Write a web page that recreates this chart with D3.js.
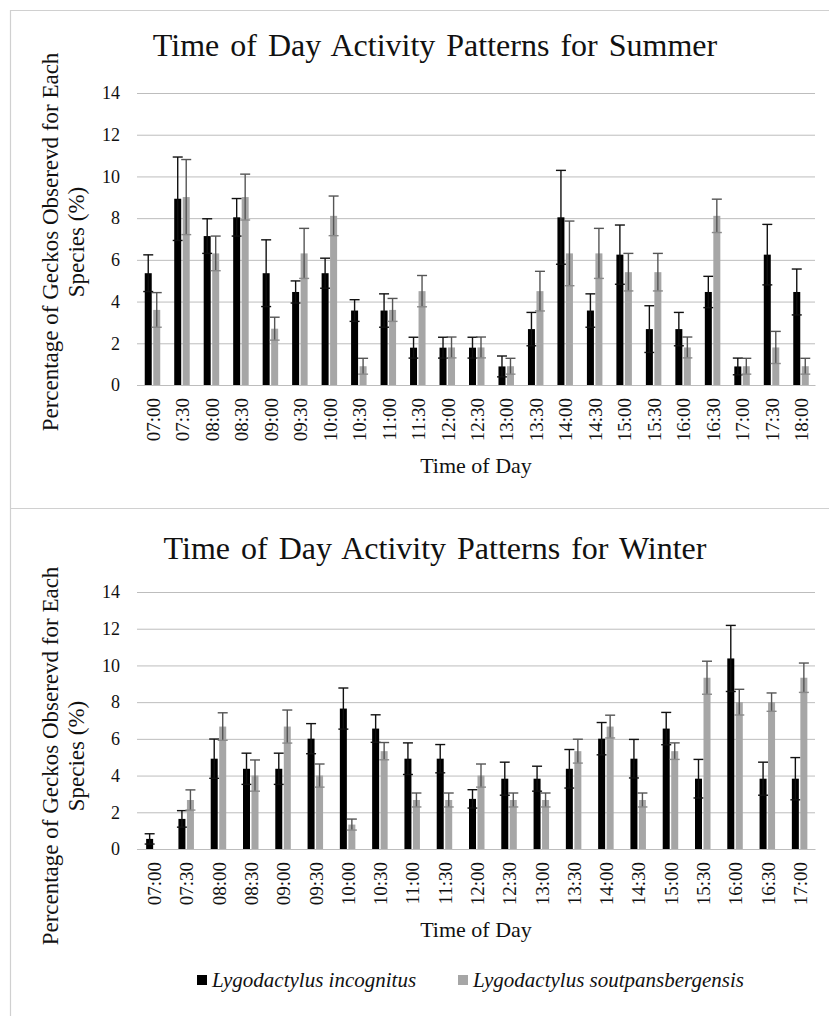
<!DOCTYPE html>
<html>
<head>
<meta charset="utf-8">
<script src="https://cdn.jsdelivr.net/npm/d3@7"></script>
<style>
  html, body { margin: 0; padding: 0; background: #fff; }
  svg { display: block; }
  svg text { font-family: "Liberation Serif", "DejaVu Serif", serif; }
</style>
</head>
<body>
<svg id="chart" width="829" height="1016"></svg>
<script>
// Percentage of geckos observed per half-hour slot, with error bar half-widths
const summerTimes = ["07:00","07:30","08:00","08:30","09:00","09:30","10:00","10:30","11:00","11:30","12:00",
  "12:30","13:00","13:30","14:00","14:30","15:00","15:30","16:00","16:30","17:00","17:30","18:00"];
const summerIncognitus = [5.36, 8.93, 7.14, 8.04, 5.36, 4.46, 5.36, 3.57, 3.57, 1.79, 1.79,
  1.79, 0.89, 2.68, 8.04, 3.57, 6.25, 2.68, 2.68, 4.46, 0.89, 6.25, 4.46];
const summerIncognitusErr = [0.88, 2.0, 0.83, 0.9, 1.6, 0.53, 0.72, 0.52, 0.8, 0.5, 0.5,
  0.5, 0.5, 0.8, 2.25, 0.8, 1.42, 1.12, 0.8, 0.75, 0.4, 1.45, 1.1];
const summerSoutpans = [3.60, 9.01, 6.31, 9.01, 2.70, 6.31, 8.11, 0.90, 3.60, 4.50, 1.80,
  1.80, 0.90, 4.50, 6.31, 6.31, 5.41, 5.41, 1.80, 8.11, 0.90, 1.80, 0.90];
const summerSoutpansErr = [0.83, 1.8, 0.83, 1.1, 0.55, 1.2, 0.95, 0.38, 0.55, 0.75, 0.5,
  0.5, 0.38, 0.95, 1.55, 1.2, 0.9, 0.9, 0.5, 0.8, 0.38, 0.77, 0.38];

const winterTimes = ["07:00","07:30","08:00","08:30","09:00","09:30","10:00","10:30","11:00","11:30","12:00",
  "12:30","13:00","13:30","14:00","14:30","15:00","15:30","16:00","16:30","17:00"];
const winterIncognitus = [0.55, 1.64, 4.92, 4.37, 4.37, 6.01, 7.65, 6.56, 4.92, 4.92, 2.73,
  3.83, 3.83, 4.37, 6.01, 4.92, 6.56, 3.83, 10.38, 3.83, 3.83];
const winterIncognitusErr = [0.28, 0.45, 1.07, 0.85, 0.85, 0.82, 1.12, 0.75, 0.86, 0.77, 0.5,
  0.9, 0.68, 1.05, 0.88, 1.05, 0.88, 1.05, 1.8, 0.9, 1.15];
const winterSoutpans = [0, 2.67, 6.67, 4.00, 6.67, 4.00, 1.33, 5.33, 2.67, 2.67, 4.00,
  2.67, 2.67, 5.33, 6.67, 2.67, 5.33, 9.33, 8.00, 8.00, 9.33];
const winterSoutpansErr = [0, 0.55, 0.75, 0.85, 0.9, 0.63, 0.3, 0.47, 0.38, 0.38, 0.63,
  0.38, 0.38, 0.65, 0.62, 0.38, 0.45, 0.9, 0.7, 0.5, 0.8];

const yTicks = [0, 2, 4, 6, 8, 10, 12, 14];
const speciesNames = ["Lygodactylus incognitus", "Lygodactylus soutpansbergensis"];
const seriesColors = ["#000000", "#a6a6a6"];
const errColors = ["#111111", "#555555"];
const SERIF = "Liberation Serif";

const svg = d3.select("#chart");
svg.append("rect").attr("width", 829).attr("height", 1016).attr("fill", "#fff");

// frame around both panels
const frame = svg.append("g").attr("stroke", "#d0d0d0").attr("fill", "none").attr("stroke-width", 1.2);
frame.append("line").attr("x1", 10.5).attr("x2", 10.5).attr("y1", 10).attr("y2", 1016);
frame.append("line").attr("x1", 10).attr("x2", 829).attr("y1", 10.5).attr("y2", 10.5);
frame.append("line").attr("x1", 10).attr("x2", 829).attr("y1", 508.5).attr("y2", 508.5);

function drawPanel(cfg) {
  const g = svg.append("g").attr("font-family", SERIF);
  const x = d3.scaleBand().domain(cfg.times).range([137, 815]).padding(0);
  const y = d3.scaleLinear().domain([0, 14]).range([cfg.y0, cfg.y14]);

  // gridlines and value labels
  const yAxis = d3.axisLeft(y).tickValues(yTicks).tickSize(-(815 - 137)).tickPadding(17).tickFormat(d3.format("d"));
  const ga = g.append("g").attr("transform", "translate(137,0)").call(yAxis).attr("font-family", SERIF);
  ga.select(".domain").remove();
  ga.selectAll(".tick line").attr("stroke", "#bdbdbd").attr("stroke-width", 1);
  ga.selectAll(".tick text").attr("font-size", 18).attr("fill", "#111").attr("font-family", SERIF);

  // x axis with rotated labels
  const xAxis = d3.axisBottom(x).tickSize(0).tickPadding(0);
  const gx = g.append("g").attr("transform", `translate(0,${cfg.y0})`).call(xAxis).attr("font-family", SERIF);
  gx.select(".domain").attr("stroke", "#bdbdbd");
  gx.selectAll(".tick text")
    .attr("font-size", 19).attr("fill", "#111").attr("font-family", SERIF)
    .attr("text-anchor", "end")
    .attr("transform", "translate(8,13) rotate(-90)")
    .attr("x", 0).attr("y", 0).attr("dy", 0);

  const series = [
    { vals: cfg.inc, errs: cfg.incErr, off: -7, i: 0 },
    { vals: cfg.sou, errs: cfg.souErr, off: 1.5, i: 1 }
  ];
  const bw = 7;
  const capW = 10;
  series.forEach(s => {
    const data = cfg.times.map((t, k) => ({ t, v: s.vals[k], e: s.errs[k] })).filter(d => d.v > 0);
    g.append("g").selectAll("rect").data(data).join("rect")
      .attr("x", d => x(d.t) + x.bandwidth() / 2 + s.off)
      .attr("width", bw)
      .attr("y", d => y(d.v))
      .attr("height", d => y(0) - y(d.v))
      .attr("fill", seriesColors[s.i]);
    const eb = g.append("g").attr("stroke", errColors[s.i]).attr("stroke-width", 1.4);
    data.forEach(d => {
      const cx = x(d.t) + x.bandwidth() / 2 + s.off + bw / 2;
      eb.append("line").attr("x1", cx).attr("x2", cx).attr("y1", y(d.v - d.e)).attr("y2", y(d.v + d.e));
      eb.append("line").attr("x1", cx - capW / 2).attr("x2", cx + capW / 2)
        .attr("y1", y(d.v + d.e)).attr("y2", y(d.v + d.e));
      eb.append("line").attr("x1", cx - capW / 2).attr("x2", cx + capW / 2)
        .attr("y1", y(d.v - d.e)).attr("y2", y(d.v - d.e))
        .attr("stroke", s.i === 0 ? "#111" : "#8a8a8a");
    });
  });

  // titles
  g.append("text").attr("x", 435).attr("y", cfg.titleY).attr("text-anchor", "middle")
    .attr("font-family", SERIF).attr("font-size", 32).attr("fill", "#111").attr("word-spacing", 3).text(cfg.title);
  g.append("text").attr("x", 476).attr("y", cfg.y0 + 88).attr("text-anchor", "middle")
    .attr("font-family", SERIF).attr("font-size", 22).attr("fill", "#111").text("Time of Day");
  g.append("text").attr("transform", `translate(58,${cfg.yTitleC}) rotate(-90)`).attr("text-anchor", "middle")
    .attr("font-family", SERIF).attr("font-size", 23).attr("fill", "#111").text("Percentage of Geckos Obserevd for Each");
  g.append("text").attr("transform", `translate(84,${cfg.yTitleC}) rotate(-90)`).attr("text-anchor", "middle")
    .attr("font-family", SERIF).attr("font-size", 23).attr("fill", "#111").text("Species (%)");
}

drawPanel({
  title: "Time of Day Activity Patterns for Summer",
  times: summerTimes, inc: summerIncognitus, incErr: summerIncognitusErr,
  sou: summerSoutpans, souErr: summerSoutpansErr,
  y0: 385, y14: 93, titleY: 56, yTitleC: 242
});
drawPanel({
  title: "Time of Day Activity Patterns for Winter",
  times: winterTimes, inc: winterIncognitus, incErr: winterIncognitusErr,
  sou: winterSoutpans, souErr: winterSoutpansErr,
  y0: 849, y14: 592, titleY: 559, yTitleC: 756
});

// legend
const legend = svg.append("g").attr("font-family", SERIF);
const legendX = [197, 458];
speciesNames.forEach((name, i) => {
  legend.append("rect").attr("x", legendX[i]).attr("y", 975).attr("width", 10).attr("height", 10)
    .attr("fill", seriesColors[i]);
  legend.append("text").attr("x", legendX[i] + 15).attr("y", 987)
    .attr("font-family", SERIF).attr("font-size", 21).attr("font-style", "italic").attr("fill", "#111").text(name);
});
</script>
</body>
</html>
